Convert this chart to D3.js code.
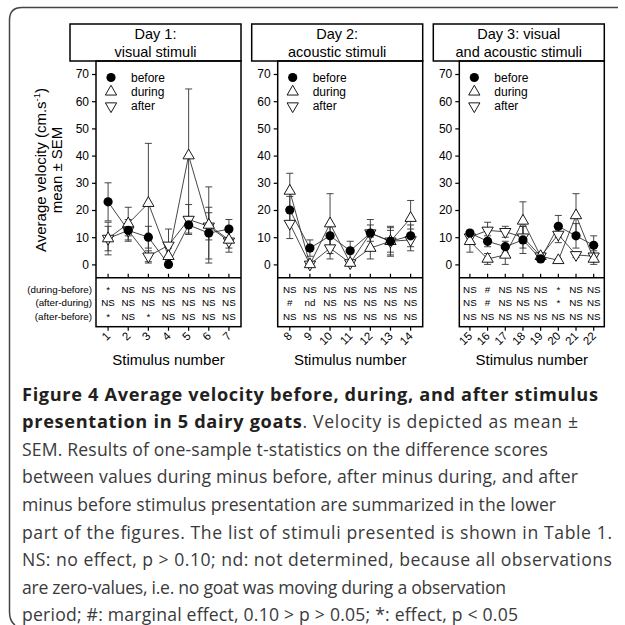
<!DOCTYPE html>
<html>
<head>
<meta charset="utf-8">
<script src="https://cdn.jsdelivr.net/npm/d3@7"></script>
<style>
  body { margin: 0; background: #fff; }
  svg { display: block; }
</style>
</head>
<body>
<div id="chart"></div>
<script>
// panel titles and stimulus numbers per day
var panelTitles = [["Day 1:", "visual stimuli"], ["Day 2:", "acoustic stimuli"], ["Day 3: visual", "and acoustic stimuli"]];
var panelStimuli = [[1, 2, 3, 4, 5, 6, 7], [8, 9, 10, 11, 12, 13, 14], [15, 16, 17, 18, 19, 20, 21, 22]];

// mean and SEM, stimulus 1..22
var before    = [23, 12.5, 10, 0, 14.5, 11.5, 13,   20, 6, 10.5, 5, 11.5, 8.5, 10.5,   11.5, 8.5, 6.5, 9, 2, 14, 10.5, 7];
var beforeErr = [7, 2, 4, 0, 3, 9.5, 3.5,            5, 3, 4, 3.5, 3, 5, 4,             1, 2, 2, 5, 1, 4, 4.5, 3.5];
var during    = [9.5, 15, 22.5, 3, 40, 14.5, 9,      27, 0, 15, 0.5, 6, 8.5, 17,        8.5, 2, 3.5, 16, 3, 1.5, 18, 2];
var duringErr = [6, 6, 22, 3, 24.5, 14, 3,           6.5, 0, 11, 0.5, 4, 4, 6.5,        4, 2, 3.5, 7, 1, 0.5, 8, 2];
var after     = [9.5, 12.5, 3, 7, 16.5, 14, 8.5,     15, 0, 6, 0.5, 11.5, 8.5, 9,       10, 12.5, 12, 10, 3, 11, 3.5, 3];
var afterErr  = [4.5, 4, 2, 6, 5.5, 5, 4,            5.5, 0, 4, 0.5, 5, 5.5, 4,         2, 3, 2, 4, 1, 3, 1, 2];

// significance table rows
var rowLabels = ["(during-before)", "(after-during)", "(after-before)"];
var sigDuringBefore = ["*", "NS", "NS", "NS", "NS", "NS", "NS",  "NS", "NS", "NS", "NS", "NS", "NS", "NS",  "NS", "#", "NS", "NS", "NS", "*", "NS", "NS"];
var sigAfterDuring  = ["NS", "NS", "NS", "NS", "NS", "NS", "NS",  "#", "nd", "NS", "NS", "NS", "NS", "NS",  "NS", "#", "NS", "NS", "NS", "*", "NS", "NS"];
var sigAfterBefore  = ["*", "NS", "*", "NS", "NS", "NS", "NS",  "NS", "NS", "NS", "NS", "NS", "NS", "NS",  "NS", "NS", "NS", "NS", "NS", "NS", "NS", "NS"];

var yTicks = [0, 10, 20, 30, 40, 50, 60, 70];
var legendNames = ["before", "during", "after"];

var captionLines = [
    [["Figure 4 Average velocity before, during, and after stimulus", true]],
    [["presentation in 5 dairy goats", true], [". Velocity is depicted as mean \u00b1", false]],
    [["SEM. Results of one-sample t-statistics on the difference scores", false]],
    [["between values during minus before, after minus during, and after", false]],
    [["minus before stimulus presentation are summarized in the lower", false]],
    [["part of the figures. The list of stimuli presented is shown in Table 1.", false]],
    [["NS: no effect, p > 0.10; nd: not determined, because all observations", false]],
    [["are zero-values, i.e. no goat was moving during a observation", false]],
    [["period; #: marginal effect, 0.10 > p > 0.05; *: effect, p < 0.05", false]]
];
// right end of each caption line in the original layout
var captionEnds = [598, 578, 548, 578, 556, 612, 612, 506, 518];

var W = 625, H = 625;
var svg = d3.select("#chart").append("svg")
    .attr("width", W)
    .attr("height", H)
    .style("font-family", "'Liberation Sans', Arial, sans-serif");

// outer frame (open on the right)
svg.append("path")
    .attr("d", "M618,7.5 H22 Q9.5,7.5 9.5,20 V612 Q9.5,621 15,625")
    .attr("fill", "none")
    .attr("stroke", "#444")
    .attr("stroke-width", 1.5);

var plotLefts = [96, 277.7, 459.3];
var plotWidth = 145;
var titleTop = 24, plotTop = 61, plotBottom = 277.7, tableBottom = 326.7;

var y = d3.scaleLinear().domain([0, 70]).range([264.4, 74]);
var rowY = [289, 302.5, 316];
var sigRows = [sigDuringBefore, sigAfterDuring, sigAfterBefore];

var triUp = d3.symbol().type(d3.symbolTriangle).size(55);

panelStimuli.forEach(function(stims, p) {
    var left = plotLefts[p], right = left + plotWidth;
    var x = d3.scalePoint().domain(stims).range([left, right]).padding(0.6);
    var g = svg.append("g");

    var rows = stims.map(function(s) {
        var i = s - 1;
        return { s: s, before: before[i], beforeErr: beforeErr[i], during: during[i], duringErr: duringErr[i], after: after[i], afterErr: afterErr[i] };
    });

    // title box
    g.append("rect")
        .attr("x", left - 26).attr("y", titleTop)
        .attr("width", right - left + 26).attr("height", plotTop - titleTop)
        .attr("fill", "none").attr("stroke", "#000").attr("stroke-width", 1.5);
    g.selectAll("titleText").data(panelTitles[p]).enter().append("text")
        .attr("x", (left - 26 + right) / 2)
        .attr("y", function(d, i) { return 38.5 + i * 18 })
        .attr("text-anchor", "middle")
        .style("font-size", "14.5px")
        .text(function(d) { return d });

    // plot box + table box
    g.append("rect")
        .attr("x", left).attr("y", plotTop)
        .attr("width", plotWidth).attr("height", tableBottom - plotTop)
        .attr("fill", "none").attr("stroke", "#000").attr("stroke-width", 1.5);
    g.append("line")
        .attr("x1", left).attr("x2", right)
        .attr("y1", plotBottom).attr("y2", plotBottom)
        .attr("stroke", "#000").attr("stroke-width", 1.5);

    // y axis
    var yAxis = g.append("g")
        .attr("transform", "translate(" + left + ",0)")
        .call(d3.axisLeft(y).tickValues(yTicks).tickSize(4).tickPadding(3));
    yAxis.select(".domain").remove();
    yAxis.selectAll("text").style("font-size", "12px").style("font-family", "'Liberation Sans', Arial, sans-serif");
    yAxis.selectAll("line").attr("stroke-width", 1.2);

    // x ticks inside plot bottom
    g.selectAll("tickIn").data(stims).enter().append("line")
        .attr("x1", function(d) { return x(d) }).attr("x2", function(d) { return x(d) })
        .attr("y1", plotBottom).attr("y2", plotBottom - 4)
        .attr("stroke", "#000").attr("stroke-width", 1.2);
    // x ticks below table
    g.selectAll("tickOut").data(stims).enter().append("line")
        .attr("x1", function(d) { return x(d) }).attr("x2", function(d) { return x(d) })
        .attr("y1", tableBottom).attr("y2", tableBottom + 4)
        .attr("stroke", "#000").attr("stroke-width", 1.2);
    g.selectAll("tickLab").data(stims).enter().append("text")
        .attr("transform", function(d) { return "translate(" + (x(d) + 3) + "," + (tableBottom + 10) + ") rotate(-45)" })
        .attr("text-anchor", "end")
        .style("font-size", "11.5px")
        .text(function(d) { return d });

    g.append("text")
        .attr("x", (left + right) / 2)
        .attr("y", 364.5)
        .attr("text-anchor", "middle")
        .style("font-size", "15px")
        .text("Stimulus number");

    // significance table
    sigRows.forEach(function(row, r) {
        g.selectAll("sig" + r).data(stims).enter().append("text")
            .attr("x", function(d) { return x(d) })
            .attr("y", rowY[r] + 3.5)
            .attr("text-anchor", "middle")
            .style("font-size", "9.8px")
            .text(function(d) { return row[d - 1] });
    });

    // legend
    legendNames.forEach(function(name, k) {
        var ly = 77.5 + k * 14.3;
        if (k === 0) {
            g.append("circle").attr("cx", left + 15).attr("cy", ly).attr("r", 4.6).attr("fill", "#000");
        } else {
            g.append("path").attr("d", triUp)
                .attr("transform", "translate(" + (left + 15) + "," + ly + ")" + (k === 2 ? " rotate(180)" : ""))
                .attr("fill", "#fff").attr("stroke", "#000").attr("stroke-width", 0.9);
        }
        g.append("text").attr("x", left + 35).attr("y", ly + 4)
            .style("font-size", "12px").text(name);
    });

    var keys = ["after", "during", "before"];

    // connecting lines
    keys.forEach(function(k) {
        var line = d3.line().x(function(d) { return x(d.s) }).y(function(d) { return y(d[k]) });
        g.append("path").attr("d", line(rows))
            .attr("fill", "none").attr("stroke", "#333").attr("stroke-width", 0.9);
    });

    // error bars
    keys.forEach(function(k) {
        var eb = g.selectAll("err" + k).data(rows).enter().append("g")
            .attr("stroke", "#333").attr("stroke-width", 0.9);
        eb.append("line")
            .attr("x1", function(d) { return x(d.s) }).attr("x2", function(d) { return x(d.s) })
            .attr("y1", function(d) { return y(d[k] - d[k + "Err"]) })
            .attr("y2", function(d) { return y(d[k] + d[k + "Err"]) });
        [-1, 1].forEach(function(sgn) {
            eb.append("line")
                .attr("x1", function(d) { return x(d.s) - 3.5 }).attr("x2", function(d) { return x(d.s) + 3.5 })
                .attr("y1", function(d) { return y(d[k] + sgn * d[k + "Err"]) })
                .attr("y2", function(d) { return y(d[k] + sgn * d[k + "Err"]) })
                .style("display", function(d) { return d[k + "Err"] > 0 ? null : "none" });
        });
    });

    // markers
    g.selectAll("afterPts").data(rows).enter().append("path")
        .attr("d", triUp)
        .attr("transform", function(d) { return "translate(" + x(d.s) + "," + y(d.after) + ") rotate(180)" })
        .attr("fill", "#fff").attr("stroke", "#000").attr("stroke-width", 0.9);
    g.selectAll("duringPts").data(rows).enter().append("path")
        .attr("d", triUp)
        .attr("transform", function(d) { return "translate(" + x(d.s) + "," + y(d.during) + ")" })
        .attr("fill", "#fff").attr("stroke", "#000").attr("stroke-width", 0.9);
    g.selectAll("beforePts").data(rows).enter().append("circle")
        .attr("cx", function(d) { return x(d.s) })
        .attr("cy", function(d) { return y(d.before) })
        .attr("r", 4.6)
        .attr("fill", "#000");
});

// row labels of the table
svg.selectAll("rowLab").data(rowLabels).enter().append("text")
    .attr("x", 92)
    .attr("y", function(d, i) { return rowY[i] + 3.5 })
    .attr("text-anchor", "end")
    .style("font-size", "9.8px")
    .text(function(d) { return d });

// y axis title
var yt = svg.append("text")
    .attr("transform", "translate(45.5,170) rotate(-90)")
    .attr("text-anchor", "middle")
    .style("font-size", "15px");
yt.append("tspan").text("Average velocity (cm.s");
yt.append("tspan").attr("dy", -6).style("font-size", "9.5px").text("-1");
yt.append("tspan").attr("dy", 6).text(")");
svg.append("text")
    .attr("transform", "translate(62,170) rotate(-90)")
    .attr("text-anchor", "middle")
    .style("font-size", "15px")
    .text("mean \u00b1 SEM");

// caption
var cap = svg.append("g").style("font-family", "'Open Sans', sans-serif");
captionLines.forEach(function(parts, i) {
    var t = cap.append("text")
        .attr("x", 22)
        .attr("y", 400.5 + i * 27.6)
        .attr("textLength", captionEnds[i] - 22)
        .attr("lengthAdjust", "spacing")
        .style("font-size", "17.6px");
    parts.forEach(function(pt) {
        t.append("tspan")
            .style("font-weight", pt[1] ? "bold" : "normal")
            .style("font-size", pt[1] ? "18.2px" : "17.6px")
            .attr("fill", pt[1] ? "#231f20" : "#3a3a3a")
            .text(pt[0]);
    });
});
</script>
</body>
</html>
